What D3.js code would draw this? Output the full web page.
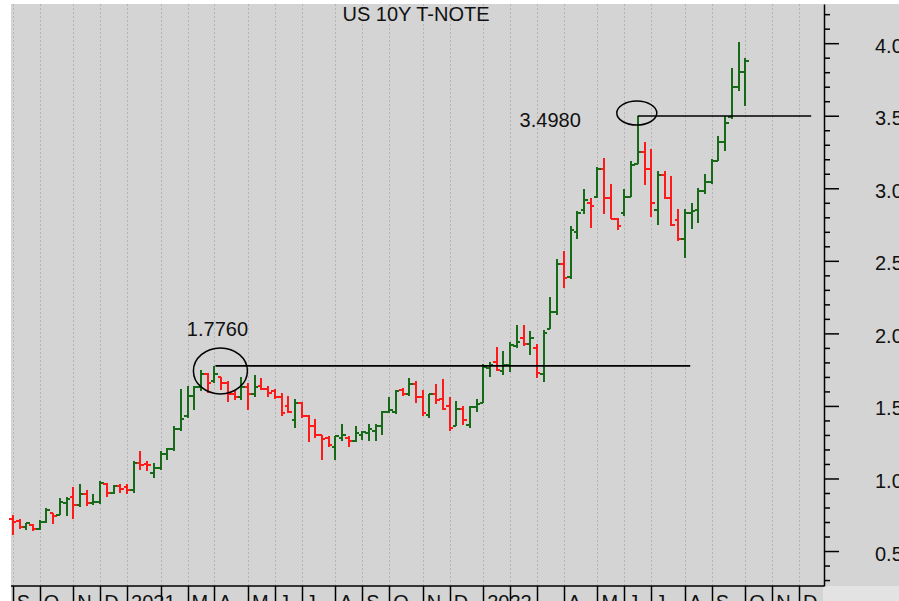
<!DOCTYPE html>
<html lang="en">
<head>
    <meta charset="UTF-8">
    <title>US 10Y T-NOTE</title>
    <script type="text/javascript" src="https://cdn.jsdelivr.net/npm/d3@7"></script>
    <style>
        body { margin: 0; background: #fff; }
        svg { display: block; font-family: "Liberation Sans", Arial, sans-serif; }
    </style>
</head>
<body>
<script type="text/javascript">
    var w = 899;
    var h = 601;

    // weekly bars, dated by the Friday of the week
    var weeks = [
        "2020-09-04", "2020-09-11", "2020-09-18", "2020-09-25", "2020-10-02", "2020-10-09", "2020-10-16", "2020-10-23", "2020-10-30",
        "2020-11-06", "2020-11-13", "2020-11-20", "2020-11-27", "2020-12-04", "2020-12-11", "2020-12-18", "2020-12-25",
        "2021-01-01", "2021-01-08", "2021-01-15", "2021-01-22", "2021-01-29", "2021-02-05", "2021-02-12", "2021-02-19", "2021-02-26",
        "2021-03-05", "2021-03-12", "2021-03-19", "2021-03-26", "2021-04-02", "2021-04-09", "2021-04-16", "2021-04-23", "2021-04-30",
        "2021-05-07", "2021-05-14", "2021-05-21", "2021-05-28", "2021-06-04", "2021-06-11", "2021-06-18", "2021-06-25",
        "2021-07-02", "2021-07-09", "2021-07-16", "2021-07-23", "2021-07-30", "2021-08-06", "2021-08-13", "2021-08-20", "2021-08-27",
        "2021-09-03", "2021-09-10", "2021-09-17", "2021-09-24", "2021-10-01", "2021-10-08", "2021-10-15", "2021-10-22", "2021-10-29",
        "2021-11-05", "2021-11-12", "2021-11-19", "2021-11-26", "2021-12-03", "2021-12-10", "2021-12-17", "2021-12-24", "2021-12-31",
        "2022-01-07", "2022-01-14", "2022-01-21", "2022-01-28", "2022-02-04", "2022-02-11", "2022-02-18", "2022-02-25",
        "2022-03-04", "2022-03-11", "2022-03-18", "2022-03-25", "2022-04-01", "2022-04-08", "2022-04-15", "2022-04-22", "2022-04-29",
        "2022-05-06", "2022-05-13", "2022-05-20", "2022-05-27", "2022-06-03", "2022-06-10", "2022-06-17", "2022-06-24",
        "2022-07-01", "2022-07-08", "2022-07-15", "2022-07-22", "2022-07-29", "2022-08-05", "2022-08-12", "2022-08-19", "2022-08-26",
        "2022-09-02", "2022-09-09", "2022-09-16", "2022-09-23", "2022-09-30", "2022-10-07"
    ];

    var openY = [
        0.72, 0.71, 0.665, 0.68, 0.655, 0.70, 0.76, 0.75, 0.83,
        0.87, 0.82, 0.89, 0.83, 0.84, 0.96, 0.90, 0.95,
        0.94, 0.92, 1.11, 1.10, 1.04, 1.07, 1.17, 1.20, 1.34,
        1.43, 1.57, 1.63, 1.72, 1.67, 1.70, 1.66, 1.58, 1.56,
        1.63, 1.58, 1.64, 1.62, 1.60, 1.56, 1.50, 1.40,
        1.52, 1.43, 1.36, 1.30, 1.28, 1.22, 1.28, 1.28, 1.26,
        1.30, 1.31, 1.33, 1.36, 1.46, 1.46, 1.61, 1.58, 1.65,
        1.56, 1.44, 1.58, 1.55, 1.50, 1.36, 1.48, 1.37, 1.49,
        1.52, 1.76, 1.80, 1.74, 1.78, 1.91, 1.97, 1.93,
        1.90, 1.72, 2.03, 2.15, 2.48, 2.39, 2.70, 2.85, 2.90,
        2.94, 3.13, 2.93, 2.79, 2.83, 2.94, 3.17, 3.25,
        3.13, 2.85, 3.09, 2.93, 2.78, 2.65, 2.83, 2.85, 2.98,
        3.04, 3.19, 3.32, 3.49, 3.70, 3.80
    ];
    var highY = [
        0.75, 0.72, 0.695, 0.683, 0.711, 0.80, 0.764, 0.868, 0.873,
        0.942, 0.965, 0.919, 0.896, 0.984, 0.972, 0.956, 0.96,
        0.96, 1.12, 1.19, 1.12, 1.11, 1.19, 1.21, 1.36, 1.62,
        1.64, 1.64, 1.75, 1.73, 1.776, 1.70, 1.67, 1.60, 1.70,
        1.66, 1.71, 1.69, 1.64, 1.62, 1.59, 1.57, 1.55,
        1.53, 1.44, 1.41, 1.30, 1.29, 1.29, 1.377, 1.29, 1.365,
        1.326, 1.377, 1.377, 1.464, 1.561, 1.608, 1.621, 1.695, 1.672,
        1.608, 1.585, 1.649, 1.684, 1.561, 1.534, 1.499, 1.499, 1.545,
        1.792, 1.806, 1.903, 1.876, 1.938, 2.06, 2.06, 2.014,
        1.926, 2.023, 2.25, 2.51, 2.565, 2.738, 2.842, 2.992, 2.935,
        3.149, 3.212, 3.027, 2.796, 2.992, 3.189, 3.498, 3.32,
        3.27, 3.119, 3.119, 3.085, 2.854, 2.86, 2.90, 3.00, 3.10,
        3.20, 3.36, 3.50, 3.83, 4.01, 3.90
    ];
    var lowY = [
        0.61, 0.655, 0.642, 0.637, 0.642, 0.69, 0.688, 0.745, 0.741,
        0.718, 0.804, 0.81, 0.817, 0.822, 0.873, 0.891, 0.90,
        0.89, 0.90, 1.06, 1.05, 1.00, 1.06, 1.13, 1.19, 1.33,
        1.42, 1.47, 1.60, 1.59, 1.66, 1.61, 1.53, 1.54, 1.54,
        1.47, 1.56, 1.61, 1.56, 1.55, 1.43, 1.45, 1.35,
        1.42, 1.25, 1.28, 1.13, 1.215, 1.13, 1.26, 1.215, 1.252,
        1.263, 1.261, 1.261, 1.298, 1.453, 1.446, 1.568, 1.568, 1.522,
        1.434, 1.418, 1.515, 1.469, 1.326, 1.36, 1.372, 1.349, 1.46,
        1.522, 1.70, 1.742, 1.714, 1.737, 1.899, 1.915, 1.852,
        1.695, 1.668, 2.03, 2.13, 2.31, 2.373, 2.65, 2.826, 2.727,
        2.935, 2.826, 2.789, 2.715, 2.812, 2.942, 3.165, 3.02,
        2.80, 2.75, 2.923, 2.738, 2.634, 2.52, 2.72, 2.76, 2.96,
        3.03, 3.19, 3.26, 3.48, 3.67, 3.57
    ];
    var closeY = [
        0.70, 0.665, 0.69, 0.655, 0.70, 0.78, 0.74, 0.84, 0.86,
        0.82, 0.89, 0.83, 0.84, 0.97, 0.90, 0.95, 0.93,
        0.92, 1.11, 1.09, 1.09, 1.07, 1.17, 1.20, 1.34, 1.41,
        1.57, 1.63, 1.72, 1.66, 1.72, 1.66, 1.58, 1.56, 1.63,
        1.58, 1.63, 1.62, 1.59, 1.56, 1.45, 1.46, 1.52,
        1.43, 1.36, 1.30, 1.27, 1.23, 1.29, 1.30, 1.26, 1.31,
        1.32, 1.34, 1.36, 1.46, 1.47, 1.60, 1.58, 1.65, 1.56,
        1.45, 1.58, 1.54, 1.48, 1.35, 1.48, 1.40, 1.49, 1.51,
        1.77, 1.78, 1.75, 1.78, 1.92, 1.94, 1.93, 1.97,
        1.73, 2.00, 2.15, 2.48, 2.38, 2.71, 2.83, 2.92, 2.88,
        3.13, 2.93, 2.79, 2.74, 2.94, 3.16, 3.25, 3.13,
        2.90, 3.09, 2.93, 2.75, 2.65, 2.83, 2.84, 2.98, 3.04,
        3.19, 3.32, 3.45, 3.70, 3.80, 3.88
    ];

    // one label per month start, Sep 2020 .. Dec 2022 (blank where hidden)
    var monthLabels = ["S", "O", "N", "D", "2021", "", "M", "A", "M", "J", "J", "A", "S", "O", "N", "D",
        "2022", "", "", "A", "M", "J", "J", "A", "S", "O", "N", "D"];

    var yMajor = [0.5, 1.0, 1.5, 2.0, 2.5, 3.0, 3.5, 4.0];
    var yMinor = [0.3, 0.4, 0.6, 0.7, 0.8, 0.9, 1.1, 1.2, 1.3, 1.4, 1.6, 1.7, 1.8, 1.9, 2.1, 2.2, 2.3, 2.4,
        2.6, 2.7, 2.8, 2.9, 3.1, 3.2, 3.3, 3.4, 3.6, 3.7, 3.8, 3.9, 4.1, 4.2];

    var markWeeks = ["2021-04-02", "2022-06-17"];
    var markValues = [1.776, 3.498];
    var markLabels = ["1.7760", "3.4980"];

    var plotLeft = 11, plotRight = 823, plotTop = 4, plotBottom = 586;
    var green = "#176a17", red = "#ff1a1a";

    var svg = d3.select("body")
        .append("svg")
        .attr("width", w)
        .attr("height", h);

    var xScale = d3.scaleLinear()
        .domain([-0.27, 120.56])
        .range([plotLeft, plotRight]);

    var yScale = d3.scaleLinear()
        .domain([0.259, 4.27])
        .range([plotBottom, plotTop]);

    // backgrounds
    svg.append("rect")
        .attr("x", plotLeft).attr("y", plotTop)
        .attr("width", w - plotLeft).attr("height", h - plotTop)
        .attr("fill", "#d4d4d4");
    svg.append("rect")
        .attr("x", plotRight).attr("y", plotBottom)
        .attr("width", w - plotRight).attr("height", h - plotBottom)
        .attr("fill", "#e3e3e3");

    // weekly calendar used for the month grid (runs past the last bar)
    var parse = d3.timeParse("%Y-%m-%d");
    var calendar = d3.timeFriday.range(parse(weeks[0]), new Date(2022, 11, 31));
    var monthStarts = [];
    calendar.forEach(function (d, i) {
        if (i === 0 || d.getMonth() !== calendar[i - 1].getMonth()) {
            monthStarts.push(i);
        }
    });
    monthStarts = monthStarts.filter(function (i) { return xScale(i) <= plotRight; });

    svg.selectAll("line.grid")
        .data(monthStarts).enter()
        .append("line")
        .attr("class", "grid")
        .attr("x1", function (d) { return Math.round(xScale(d)) + 0.5; })
        .attr("x2", function (d) { return Math.round(xScale(d)) + 0.5; })
        .attr("y1", plotTop)
        .attr("y2", plotBottom)
        .attr("stroke", "#b4b4b4")
        .attr("stroke-width", 1)
        .attr("stroke-dasharray", "2,2");

    // OHLC bars
    var bars = svg.selectAll("g.bar")
        .data(weeks).enter()
        .append("g")
        .attr("class", "bar")
        .attr("stroke", function (d, i) {
            return closeY[i] < openY[i] ? red : green;
        })
        .attr("stroke-width", 2)
        .attr("shape-rendering", "crispEdges");

    bars.append("line")
        .attr("x1", function (d, i) { return xScale(i); })
        .attr("x2", function (d, i) { return xScale(i); })
        .attr("y1", function (d, i) { return yScale(highY[i]); })
        .attr("y2", function (d, i) { return yScale(lowY[i]); });
    bars.append("line")
        .attr("x1", function (d, i) { return xScale(i) - 3.5; })
        .attr("x2", function (d, i) { return xScale(i); })
        .attr("y1", function (d, i) { return yScale(openY[i]); })
        .attr("y2", function (d, i) { return yScale(openY[i]); });
    bars.append("line")
        .attr("x1", function (d, i) { return xScale(i); })
        .attr("x2", function (d, i) { return xScale(i) + 3.5; })
        .attr("y1", function (d, i) { return yScale(closeY[i]); })
        .attr("y2", function (d, i) { return yScale(closeY[i]); });

    // right axis
    var axisG = svg.append("g")
        .attr("transform", "translate(" + (plotRight + 1) + ",0)");
    axisG.call(d3.axisRight(yScale).tickValues(yMinor).tickSize(6).tickSizeOuter(0).tickFormat(""));
    var majorG = svg.append("g")
        .attr("transform", "translate(" + (plotRight + 1) + ",0)")
        .call(d3.axisRight(yScale).tickValues(yMajor).tickSize(15).tickSizeOuter(0)
            .tickPadding(36).tickFormat(d3.format(".2f")));
    majorG.select(".domain").remove();
    svg.selectAll(".tick line").attr("stroke", "#000").attr("stroke-width", 1.5);
    axisG.select(".domain").attr("stroke", "#000").attr("stroke-width", 1.5);
    majorG.selectAll("text")
        .attr("font-family", "Liberation Sans, Arial, sans-serif")
        .attr("font-size", "20px")
        .attr("fill", "#111")
        .attr("dy", "0.45em");

    // bottom frame and month separators
    svg.append("line")
        .attr("x1", plotLeft).attr("x2", plotRight + 1)
        .attr("y1", plotBottom).attr("y2", plotBottom)
        .attr("stroke", "#000").attr("stroke-width", 1.5);

    svg.selectAll("line.sep")
        .data(monthStarts).enter()
        .append("line")
        .attr("class", "sep")
        .attr("x1", function (d) { return Math.round(xScale(d)) + 0.5; })
        .attr("x2", function (d) { return Math.round(xScale(d)) + 0.5; })
        .attr("y1", plotBottom)
        .attr("y2", h)
        .attr("stroke", "#000")
        .attr("stroke-width", 1.5);

    svg.selectAll("text.month")
        .data(monthStarts).enter()
        .append("text")
        .attr("class", "month")
        .text(function (d, i) { return monthLabels[i]; })
        .attr("x", function (d) { return xScale(d) + 4; })
        .attr("y", 609)
        .attr("font-size", "20px")
        .attr("fill", "#111");

    // title
    svg.append("text")
        .text("US 10Y T-NOTE")
        .attr("x", 416)
        .attr("y", 21)
        .attr("text-anchor", "middle")
        .attr("font-size", "20px")
        .attr("fill", "#111");

    // high-water marks
    var markIdx = markWeeks.map(function (d) { return weeks.indexOf(d); });
    var lineEnds = [100.8, 118.8];
    var ellipse = [[6, 5, 27, 23], [-1, -3, 20, 12]];

    markIdx.forEach(function (idx, k) {
        var cx = xScale(idx), cy = yScale(markValues[k]);
        svg.append("line")
            .attr("x1", cx + (k === 0 ? 1 : 0))
            .attr("x2", xScale(lineEnds[k]))
            .attr("y1", cy).attr("y2", cy)
            .attr("stroke", "#000").attr("stroke-width", 1.6);
        svg.append("ellipse")
            .attr("cx", cx + ellipse[k][0])
            .attr("cy", cy + ellipse[k][1])
            .attr("rx", ellipse[k][2])
            .attr("ry", ellipse[k][3])
            .attr("fill", "none")
            .attr("stroke", "#000")
            .attr("stroke-width", 1.5);
    });

    svg.append("text")
        .text(markLabels[0])
        .attr("x", xScale(markIdx[0]) + 3)
        .attr("y", yScale(markValues[0]) - 30)
        .attr("text-anchor", "middle")
        .attr("font-size", "20px")
        .attr("fill", "#111");
    svg.append("text")
        .text(markLabels[1])
        .attr("x", xScale(markIdx[1]) - 57)
        .attr("y", yScale(markValues[1]) + 11)
        .attr("text-anchor", "end")
        .attr("font-size", "20px")
        .attr("fill", "#111");
</script>
</body>
</html>
